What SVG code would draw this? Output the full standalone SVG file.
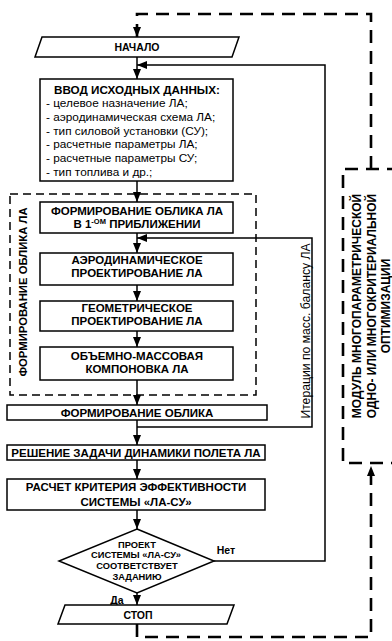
<svg xmlns="http://www.w3.org/2000/svg" width="392" height="641" viewBox="0 0 392 641">
<defs>
<style>
text{font-family:"Liberation Sans",Arial,sans-serif;fill:#000}
.b{font-weight:bold;font-size:11.5px;text-anchor:middle}
.r{font-size:11.8px}
.d{font-weight:bold;font-size:9.3px;text-anchor:middle}
.box{fill:#fff;stroke:#000;stroke-width:1.5}
.ln{fill:none;stroke:#000;stroke-width:1.5}
.dl{fill:none;stroke:#000;stroke-width:2.6;stroke-dasharray:13,8}
.dbox{fill:none;stroke:#000;stroke-width:1.5;stroke-dasharray:8,5}
</style>
<marker id="arr" viewBox="0 0 10 8" refX="10" refY="4" markerWidth="10" markerHeight="8" markerUnits="userSpaceOnUse" orient="auto">
<path d="M0,0 L10,4 L0,8 z" fill="#000"/>
</marker>
</defs>
<rect width="392" height="641" fill="#fff"/>
<g id="connectors">
<path class="ln" d="M137,57 V79" marker-end="url(#arr)"/>
<path class="ln" d="M137,181 V202" marker-end="url(#arr)"/>
<path class="ln" d="M137,233 V253" marker-end="url(#arr)"/>
<path class="ln" d="M137,285 V301" marker-end="url(#arr)"/>
<path class="ln" d="M137,331 V347" marker-end="url(#arr)"/>
<path class="ln" d="M137,380 V405" marker-end="url(#arr)"/>
<path class="ln" d="M137,420 V445" marker-end="url(#arr)"/>
<path class="ln" d="M137,460 V479" marker-end="url(#arr)"/>
<path class="ln" d="M137,510 V529" marker-end="url(#arr)"/>
<path class="ln" d="M137,593 V605" marker-end="url(#arr)"/>
<path class="ln" d="M214,561 H325 V65 H137" marker-end="url(#arr)"/>
<path class="ln" d="M137,427 H312 V238 H137" marker-end="url(#arr)"/>
<path class="dl" d="M137,624 V637 H371 V466" marker-end="url(#arr)"/>
<path class="dl" d="M371,169 V14 H137 V37" marker-end="url(#arr)"/>
<text class="b" x="226" y="554" style="font-size:10.5px">Нет</text>
<text class="b" x="117" y="604" style="font-size:10.5px">Да</text>
<text class="r" transform="translate(310,331) rotate(-90)" text-anchor="middle" style="font-size:12.2px">Итерации по масс. балансу ЛА</text>
</g>
<g id="group-form">
<rect class="dbox" x="10" y="194" width="246" height="201"/>
<text class="b" transform="translate(27,292) rotate(-90)" style="font-size:11.3px">ФОРМИРОВАНИЕ ОБЛИКА ЛА</text>
</g>
<g id="module">
<path class="dl" d="M400,169 H343 V463 H400"/>
<text class="b" transform="translate(361,306) rotate(-90)" style="font-size:12px">МОДУЛЬ МНОГОПАРАМЕТРИЧЕСКОЙ</text>
<text class="b" transform="translate(376,306) rotate(-90)" style="font-size:12px">ОДНО- ИЛИ МНОГОКРИТЕРИАЛЬНОЙ</text>
<text class="b" transform="translate(390,306) rotate(-90)" style="font-size:12px">ОПТИМИЗАЦИИ</text>
</g>
<g id="start">
<polygon class="box" points="42,37 239,37 232,57 35,57"/>
<text class="b" x="137" y="51" style="font-size:10.5px">НАЧАЛО</text>
</g>
<g id="input">
<rect class="box" x="40" y="79" width="193" height="102"/>
<text class="b" x="137" y="94" style="font-size:11.7px">ВВОД ИСХОДНЫХ ДАННЫХ:</text>
<text class="r" x="46" y="107">- целевое назначение ЛА;</text>
<text class="r" x="46" y="121">- аэродинамическая схема ЛА;</text>
<text class="r" x="46" y="135">- тип силовой установки (СУ);</text>
<text class="r" x="46" y="148">- расчетные параметры ЛА;</text>
<text class="r" x="46" y="162">- расчетные параметры СУ;</text>
<text class="r" x="46" y="176">- тип топлива и др.;</text>
</g>
<g id="form1">
<rect class="box" x="40" y="202" width="193" height="31"/>
<text class="b" x="137" y="215">ФОРМИРОВАНИЕ ОБЛИКА ЛА</text>
<text class="b" x="137" y="227.5">В 1<tspan style="font-size:7.5px" dy="-4">-ОМ</tspan><tspan dy="4"> ПРИБЛИЖЕНИИ</tspan></text>
</g>
<g id="aero">
<rect class="box" x="40" y="253" width="193" height="32"/>
<text class="b" x="137" y="264">АЭРОДИНАМИЧЕСКОЕ</text>
<text class="b" x="137" y="277">ПРОЕКТИРОВАНИЕ ЛА</text>
</g>
<g id="geom">
<rect class="box" x="40" y="301" width="193" height="30"/>
<text class="b" x="137" y="312">ГЕОМЕТРИЧЕСКОЕ</text>
<text class="b" x="137" y="325">ПРОЕКТИРОВАНИЕ ЛА</text>
</g>
<g id="layout">
<rect class="box" x="40" y="347" width="193" height="33"/>
<text class="b" x="137" y="360">ОБЪЕМНО-МАССОВАЯ</text>
<text class="b" x="137" y="373">КОМПОНОВКА ЛА</text>
</g>
<g id="form">
<rect class="box" x="7" y="405" width="260" height="15"/>
<text class="b" x="137" y="416.5">ФОРМИРОВАНИЕ ОБЛИКА</text>
</g>
<g id="dyn">
<rect class="box" x="7" y="445" width="258" height="15"/>
<text class="b" x="136" y="456.5">РЕШЕНИЕ ЗАДАЧИ ДИНАМИКИ ПОЛЕТА ЛА</text>
</g>
<g id="crit">
<rect class="box" x="7" y="479" width="258" height="31"/>
<text class="b" x="136" y="491">РАСЧЕТ КРИТЕРИЯ ЭФФЕКТИВНОСТИ</text>
<text class="b" x="136" y="506">СИСТЕМЫ «ЛА-СУ»</text>
</g>
<g id="decision">
<polygon class="box" points="137,529 214,561 137,593 59,561"/>
<text class="d" x="137" y="547.5">ПРОЕКТ</text>
<text class="d" x="136" y="558">СИСТЕМЫ «ЛА-СУ»</text>
<text class="d" x="137" y="568.5">СООТВЕТСТВУЕТ</text>
<text class="d" x="137" y="579.5">ЗАДАНИЮ</text>
</g>
<g id="stop">
<polygon class="box" points="65,605 234,605 227,624 58,624"/>
<text class="b" x="138" y="618.5" style="font-size:10.5px">СТОП</text>
</g>
</svg>
